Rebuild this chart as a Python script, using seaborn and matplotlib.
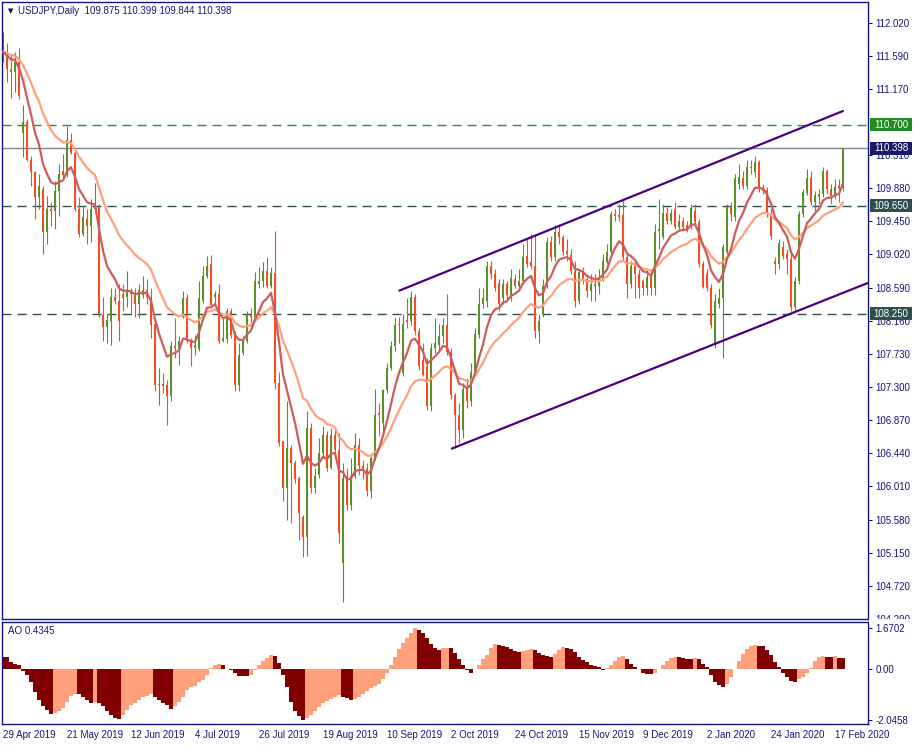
import numpy as np
import pandas as pd
import seaborn as sns
import matplotlib
matplotlib.use("Agg")
import matplotlib.pyplot as plt
from matplotlib.patches import Rectangle

# USDJPY daily bars, 29 Apr 2019 .. 19 Feb 2020
opens = [
    111.55, 111.65, 111.42, 111.38, 111.51, 110.60, 110.74, 110.25, 110.09, 109.76,
    109.87, 109.31, 109.61, 109.58, 109.84, 110.10, 110.05, 110.51, 110.34, 109.61,
    109.29, 109.48, 109.39, 109.61, 109.63, 108.24, 108.08, 108.15, 108.47, 108.41,
    108.50, 108.47, 108.54, 108.52, 108.37, 108.49, 108.56, 108.47, 108.12, 107.32,
    107.34, 107.32, 107.18, 107.83, 107.79, 108.21, 108.46, 107.90, 107.80, 107.79,
    108.42, 108.74, 108.89, 108.47, 108.51, 107.89, 107.92, 108.28, 107.97, 107.32,
    107.74, 107.89, 108.24, 108.21, 108.64, 108.67, 108.81, 108.61, 108.78, 107.35,
    106.60, 105.99, 106.51, 106.32, 106.12, 105.61, 105.35, 106.77, 105.99, 106.16,
    106.44, 106.68, 106.25, 106.68, 106.48, 105.02, 106.15, 105.77, 106.15, 106.55,
    106.28, 106.23, 105.95, 106.38, 106.96, 106.83, 107.26, 107.54, 107.83, 108.12,
    107.48, 108.17, 108.15, 108.47, 108.03, 107.65, 107.57, 107.05, 107.80, 107.84,
    107.96, 108.11, 107.76, 107.19, 106.94, 106.74, 107.28, 107.12, 107.50, 107.97,
    108.38, 108.41, 108.87, 108.76, 108.65, 108.45, 108.63, 108.49, 108.70, 108.61,
    108.68, 109.00, 108.92, 108.87, 108.03, 108.25, 108.60, 109.18, 108.99, 109.31,
    109.25, 109.07, 109.01, 108.81, 108.42, 108.81, 108.70, 108.55, 108.61, 108.61,
    108.70, 108.92, 109.05, 109.54, 109.53, 109.53, 108.99, 108.64, 108.87, 108.77,
    108.67, 108.58, 108.73, 108.58, 109.32, 109.25, 109.56, 109.45, 109.61, 109.38,
    109.45, 109.40, 109.38, 109.58, 109.44, 108.90, 108.77, 108.59, 107.87, 108.38,
    108.45, 109.05, 109.63, 109.50, 109.93, 110.01, 109.91, 110.16, 110.09, 110.22,
    109.88, 109.85, 109.54, 108.94, 108.90, 109.12, 109.03, 108.96, 108.34, 108.68,
    109.54, 109.81, 110.01, 109.70, 109.76, 109.80, 110.10, 109.87, 109.78, 109.91, 109.875,
]
highs = [
    111.91, 111.76, 111.61, 111.64, 111.70, 110.96, 110.77, 110.29, 110.10, 110.06,
    109.91, 109.78, 109.70, 109.97, 110.19, 110.32, 110.68, 110.60, 110.38, 109.76,
    109.65, 109.61, 109.74, 109.94, 109.67, 108.47, 108.25, 108.58, 108.59, 108.64,
    108.64, 108.81, 108.58, 108.58, 108.64, 108.74, 108.70, 108.58, 108.16, 107.54,
    107.48, 107.39, 107.89, 108.19, 107.96, 108.55, 108.50, 107.93, 107.97, 108.68,
    108.87, 109.00, 109.01, 108.55, 108.64, 108.21, 108.32, 108.32, 108.02, 107.87,
    107.96, 108.28, 108.32, 108.79, 108.86, 108.92, 108.99, 108.86, 109.32, 107.50,
    106.60, 107.12, 106.55, 106.35, 106.15, 105.64, 106.99, 106.83, 106.25, 106.64,
    106.79, 106.73, 106.77, 106.74, 106.70, 106.32, 106.25, 106.38, 106.70, 106.64,
    106.35, 106.32, 106.44, 107.28, 107.09, 107.28, 107.61, 107.89, 108.21, 108.21,
    108.25, 108.45, 108.55, 108.51, 108.06, 107.87, 107.67, 107.87, 108.19, 108.12,
    108.19, 108.50, 107.80, 107.22, 107.09, 107.35, 107.41, 107.61, 108.06, 108.58,
    108.58, 108.94, 108.94, 108.83, 108.70, 108.70, 108.67, 108.83, 108.77, 108.83,
    109.16, 109.22, 109.29, 109.29, 108.25, 108.70, 109.25, 109.26, 109.40, 109.41,
    109.27, 109.22, 109.09, 108.94, 108.83, 108.86, 108.77, 108.77, 108.77, 108.83,
    109.03, 109.16, 109.58, 109.61, 109.67, 109.74, 109.03, 108.94, 108.94, 108.83,
    108.70, 108.83, 108.81, 109.41, 109.74, 109.67, 109.63, 109.61, 109.70, 109.54,
    109.50, 109.45, 109.67, 109.67, 109.48, 108.94, 108.83, 108.64, 108.51, 108.58,
    109.16, 109.67, 109.70, 110.06, 110.19, 110.10, 110.25, 110.25, 110.29, 110.25,
    109.93, 109.89, 109.61, 108.99, 109.22, 109.20, 109.09, 109.03, 108.73, 109.58,
    109.87, 110.13, 110.10, 109.84, 109.87, 110.15, 110.13, 109.93, 110.00, 110.00, 110.399,
]
lows = [
    111.52, 111.25, 111.05, 111.13, 111.04, 110.28, 110.23, 109.91, 109.48, 109.61,
    109.03, 109.16, 109.39, 109.35, 109.52, 110.03, 110.02, 110.32, 109.58, 109.25,
    109.26, 109.16, 109.18, 109.58, 108.21, 107.90, 107.87, 107.84, 108.38, 107.90,
    108.28, 108.34, 108.23, 108.21, 108.19, 108.45, 108.38, 107.93, 107.25, 107.06,
    107.22, 106.81, 107.12, 107.67, 107.58, 108.19, 107.87, 107.57, 107.72, 107.77,
    108.39, 108.72, 108.32, 108.38, 107.87, 107.88, 107.87, 107.93, 107.25, 107.25,
    107.71, 107.87, 108.06, 108.19, 108.58, 108.60, 108.58, 108.58, 107.28, 106.53,
    105.82, 105.57, 105.54, 106.06, 105.32, 105.09, 105.11, 105.93, 105.93, 106.12,
    106.38, 106.21, 106.23, 106.44, 105.28, 104.51, 105.71, 105.71, 106.12, 106.16,
    106.10, 105.89, 105.86, 106.35, 106.66, 106.66, 107.22, 107.52, 107.77, 107.87,
    107.44, 108.06, 108.10, 107.98, 107.52, 107.44, 107.00, 106.99, 107.74, 107.77,
    107.87, 107.72, 107.15, 106.51, 106.57, 106.64, 107.03, 107.05, 107.44, 107.93,
    108.32, 108.34, 108.70, 108.54, 108.29, 108.38, 108.41, 108.42, 108.58, 108.55,
    108.64, 108.86, 108.83, 107.93, 107.87, 108.21, 108.58, 108.94, 108.94, 109.16,
    109.01, 108.94, 108.76, 108.34, 108.38, 108.64, 108.47, 108.42, 108.41, 108.51,
    108.68, 108.90, 109.03, 109.45, 109.45, 108.94, 108.45, 108.58, 108.45, 108.45,
    108.49, 108.49, 108.49, 108.49, 109.09, 109.22, 109.41, 109.41, 109.35, 109.32,
    109.32, 109.31, 109.35, 109.40, 108.86, 108.58, 108.55, 108.06, 107.80, 108.32,
    107.67, 109.03, 109.45, 109.45, 109.87, 109.87, 109.87, 110.06, 110.02, 109.83,
    109.80, 109.50, 109.22, 108.77, 108.83, 108.96, 108.77, 108.29, 108.29, 108.64,
    109.50, 109.79, 109.66, 109.58, 109.67, 109.76, 109.80, 109.67, 109.74, 109.70, 109.844,
]
closes = [
    111.65, 111.42, 111.38, 111.51, 111.07, 110.74, 110.25, 110.09, 109.76, 109.91,
    109.31, 109.61, 109.58, 109.84, 110.06, 110.05, 110.51, 110.34, 109.61, 109.29,
    109.50, 109.39, 109.61, 109.63, 108.25, 108.08, 108.17, 108.47, 108.41, 108.16,
    108.45, 108.54, 108.51, 108.37, 108.56, 108.56, 108.47, 108.11, 107.32, 107.34,
    107.31, 107.18, 107.83, 107.80, 107.90, 108.46, 107.89, 107.80, 107.84, 108.46,
    108.74, 108.87, 108.36, 108.51, 107.89, 107.93, 108.28, 107.97, 107.32, 107.71,
    107.89, 108.24, 108.21, 108.67, 108.67, 108.81, 108.61, 108.78, 107.35, 106.57,
    105.99, 106.51, 106.32, 106.10, 105.67, 105.35, 106.77, 105.99, 106.15, 106.44,
    106.68, 106.25, 106.68, 106.48, 105.41, 106.12, 105.77, 106.15, 106.55, 106.28,
    106.23, 105.95, 106.38, 106.94, 106.94, 107.26, 107.54, 107.83, 108.10, 108.10,
    108.12, 108.14, 108.47, 108.02, 107.57, 107.45, 107.05, 107.80, 107.87, 107.96,
    108.11, 107.76, 107.19, 106.94, 106.74, 107.28, 107.12, 107.50, 107.99, 108.38,
    108.45, 108.87, 108.77, 108.58, 108.38, 108.63, 108.49, 108.72, 108.61, 108.68,
    108.99, 108.90, 108.87, 108.03, 108.16, 108.61, 109.18, 108.99, 109.31, 109.25,
    109.05, 109.03, 108.81, 108.42, 108.79, 108.70, 108.55, 108.63, 108.64, 108.73,
    108.94, 109.05, 109.54, 109.52, 109.50, 108.99, 108.64, 108.87, 108.77, 108.58,
    108.58, 108.73, 108.58, 109.31, 109.35, 109.56, 109.45, 109.56, 109.38, 109.45,
    109.38, 109.35, 109.62, 109.44, 108.90, 108.60, 108.58, 108.10, 108.41, 108.45,
    109.12, 109.63, 109.54, 110.01, 110.02, 109.91, 110.16, 110.14, 110.22, 109.87,
    109.84, 109.54, 109.26, 108.89, 109.17, 109.00, 108.96, 108.34, 108.67, 109.54,
    109.83, 110.01, 109.70, 109.79, 109.80, 110.10, 109.87, 109.78, 109.89, 109.88, 110.398,
]
# Awesome Oscillator values per bar
ao = [
    0.51, 0.48, 0.28, 0.21, 0.15, -0.09, -0.25, -0.52, -0.92, -1.25,
    -1.48, -1.65, -1.81, -1.79, -1.72, -1.56, -1.32, -1.08, -0.99, -1.01,
    -1.12, -1.25, -1.37, -1.35, -1.39, -1.48, -1.69, -1.85, -1.97, -2.01,
    -1.88, -1.65, -1.45, -1.39, -1.25, -1.12, -1.08, -1.03, -1.12, -1.25,
    -1.36, -1.45, -1.61, -1.48, -1.35, -1.12, -0.85, -0.72, -0.69, -0.52,
    -0.45, -0.25, 0.05, 0.15, 0.21, 0.15, 0.01, -0.05, -0.15, -0.27,
    -0.28, -0.29, -0.23, -0.05, 0.15, 0.32, 0.44, 0.57, 0.55, 0.25,
    -0.25, -0.72, -1.32, -1.69, -1.92, -2.0458, -1.99, -1.85, -1.72, -1.52,
    -1.39, -1.29, -1.21, -1.12, -1.05, -1.12, -1.19, -1.25, -1.23, -1.12,
    -0.99, -0.89, -0.76, -0.68, -0.59, -0.41, -0.15, 0.15, 0.48, 0.81,
    1.08, 1.28, 1.48, 1.6702, 1.58, 1.45, 1.25, 1.02, 0.85, 0.78,
    0.84, 0.86, 0.84, 0.65, 0.41, 0.17, -0.05, -0.15, -0.01, 0.17,
    0.41, 0.59, 0.84, 1.01, 0.99, 0.95, 0.88, 0.81, 0.72, 0.71,
    0.75, 0.79, 0.81, 0.76, 0.67, 0.57, 0.52, 0.51, 0.60, 0.77,
    0.90, 0.85, 0.81, 0.68, 0.48, 0.39, 0.28, 0.17, 0.12, 0.08,
    -0.03, 0.04, 0.15, 0.32, 0.48, 0.55, 0.41, 0.21, 0.08, -0.01,
    -0.16, -0.19, -0.20, -0.15, -0.01, 0.15, 0.32, 0.45, 0.50, 0.48,
    0.44, 0.43, 0.41, 0.44, 0.41, 0.21, 0.08, -0.25, -0.52, -0.63,
    -0.72, -0.59, -0.32, 0.01, 0.35, 0.61, 0.81, 0.92, 0.96, 0.94,
    0.92, 0.79, 0.59, 0.28, 0.08, -0.15, -0.32, -0.48, -0.52, -0.41,
    -0.32, -0.16, 0.05, 0.31, 0.48, 0.55, 0.51, 0.50, 0.52, 0.45, 0.4345,
]

date_pos = [0, 16, 32, 48, 64, 80, 96, 112, 128, 144, 160, 176, 192, 208]
date_labels = ["29 Apr 2019", "21 May 2019", "12 Jun 2019", "4 Jul 2019",
               "26 Jul 2019", "19 Aug 2019", "10 Sep 2019", "2 Oct 2019",
               "24 Oct 2019", "15 Nov 2019", "9 Dec 2019", "2 Jan 2020",
               "24 Jan 2020", "17 Feb 2020"]
price_ticks = [112.020, 111.590, 111.170, 110.310, 109.880, 109.450, 109.020,
               108.590, 108.160, 107.730, 107.300, 106.870, 106.440, 106.010,
               105.580, 105.150, 104.720, 104.290]
level_prices = [110.700, 109.650, 108.250]
level_colors = ["#2e8b2e", "#2f4f4f", "#2f4f4f"]
last_price = 110.398
# trend channel (bar index, price)
upper_x, upper_y = [99.1, 210.0], [108.55, 110.88]
lower_x, lower_y = [112.2, 216.25], [106.50, 108.65]

NAVY = "#16167a"
BULL = "#5b8f29"
BEAR = "#f24e26"

sns.set_style("white")
plt.rcParams["font.family"] = ["Liberation Sans", "DejaVu Sans"]
FS = 7.0

df = pd.DataFrame({"open": opens, "high": highs, "low": lows, "close": closes, "ao": ao})
df["idx"] = np.arange(len(df))
df["fast"] = df["close"].ewm(span=8, adjust=False).mean()
df["slow"] = df["close"].ewm(span=21, adjust=False).mean()

W, H = 915, 746
fig = plt.figure(figsize=(W / 100, H / 100), dpi=100)
ax = fig.add_axes([2 / W, 1 - 619 / H, 866 / W, 617 / H])
ax2 = fig.add_axes([2 / W, 1 - 724 / H, 866 / W, 102 / H])

xlim = (-0.25, 216.25)
ylim = (104.327, 112.294)
px = (ylim[1] - ylim[0]) / 617  # price per pixel

# ---- price panel
up = df["close"] >= df["open"]
cols = np.where(up, BULL, BEAR)
ax.vlines(df["idx"], df["low"], df["high"], colors=cols, lw=0.8, zorder=2)
body_lo = np.minimum(df["open"], df["close"])
body_h = np.maximum((df["close"] - df["open"]).abs(), px)
ax.bar(df["idx"], body_h, bottom=body_lo, width=0.72, color=cols, lw=0, zorder=2)

sns.lineplot(x=df["idx"], y=df["slow"], ax=ax, color="#ffa07a", lw=1.6, zorder=3)
sns.lineplot(x=df["idx"], y=df["fast"], ax=ax, color="#cd5c5c", lw=1.6, zorder=3)

for lv, c in zip(level_prices, level_colors):
    ax.axhline(lv, color=c, lw=1, ls=(0, (6.5, 4.3)), zorder=1)
ax.axhline(last_price, color="#7a8a99", lw=1, zorder=1)

ax.plot(upper_x, upper_y, color="#4b0082", lw=1.6, zorder=4)
ax.plot(lower_x, lower_y, color="#4b0082", lw=1.6, zorder=4)

ax.set_xlim(*xlim)
ax.set_ylim(*ylim)
ax.set_xticks([])
ax.yaxis.tick_right()
ax.set_yticks(price_ticks, [f"{t:.3f}" for t in price_ticks])
ax.tick_params(axis="y", direction="out", length=3, width=0.8, color=NAVY,
               labelcolor=NAVY, labelsize=FS, pad=2.5)
ax.set_xlabel("")
ax.set_ylabel("")

# price tags on the right scale
tr = ax.get_yaxis_transform()
box_x0, box_w = 1 + 2 / 866, 42 / 866
for lv, c in zip(level_prices + [last_price],
                 ["#228b22", "#2f4f4f", "#2f4f4f", "#191970"]):
    ax.add_patch(Rectangle((box_x0, lv - 6.5 * px), box_w, 13 * px, transform=tr,
                           fc=c, ec="none", clip_on=False, zorder=6))
    ax.text(box_x0 + box_w / 2, lv, f"{lv:.3f}", transform=tr, ha="center",
            va="center", color="white", fontsize=FS, clip_on=False, zorder=7)

fig.text(8 / W, 1 - 11 / H, "\u25bc", fontsize=5, color="#101040",
         ha="left", va="center", family=["DejaVu Sans"])
fig.text(18 / W, 1 - 11 / H, "USDJPY,Daily  109.875 110.399 109.844 110.398",
         fontsize=FS, color=NAVY, ha="left", va="center")

# ---- AO panel
ao_arr = df["ao"].to_numpy()
ao_up = np.concatenate([[False], np.diff(ao_arr) > 0])
ao_cols = np.where(ao_up, "#ffa07a", "#800000")
ax2.bar(df["idx"], ao_arr, width=1.0, color=ao_cols, lw=0)
ax2.set_xlim(*xlim)
ax2.set_ylim(-2.228, 1.914)
ax2.yaxis.tick_right()
ax2.set_yticks([1.6702, 0.0, -2.0458], ["1.6702", "0.00", "-2.0458"])
ax2.tick_params(axis="y", direction="out", length=3, width=0.8, color=NAVY,
                labelcolor=NAVY, labelsize=FS, pad=2.5)
ax2.set_xticks(date_pos, date_labels, ha="left")
ax2.tick_params(axis="x", direction="out", length=3, width=0.8, color=NAVY,
                labelcolor=NAVY, labelsize=FS, pad=1.5)
ax2.text(8 / W, 1 - 631 / H, "AO 0.4345", transform=fig.transFigure,
         fontsize=FS, color=NAVY, ha="left", va="center")

for a in (ax, ax2):
    for s in a.spines.values():
        s.set_color(NAVY)
        s.set_linewidth(1.0)

# hide the lower half of the cut-off 104.290 label, as in the terminal
fig.add_artist(Rectangle((869 / W, 1 - 623.5 / H), 46 / W, 4.5 / H,
                         transform=fig.transFigure, fc="white", ec="none", zorder=10))

fig.savefig("out.png", dpi=100, facecolor="white")
